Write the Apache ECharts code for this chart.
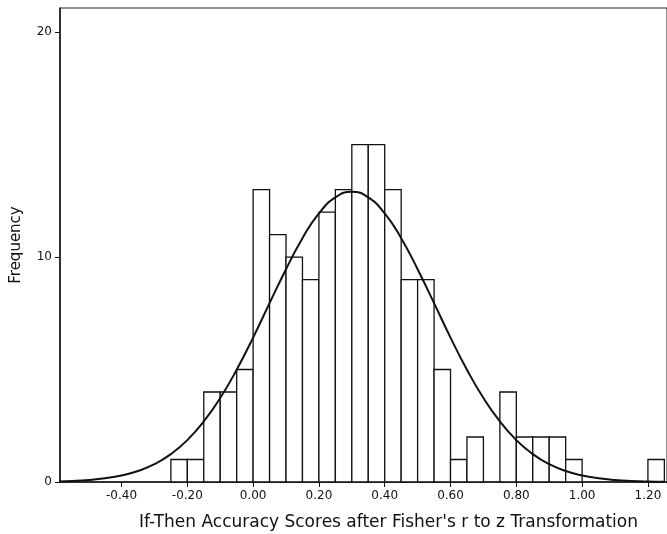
<!DOCTYPE html>
<html>
<head>
<meta charset="utf-8">
<script src="https://cdn.jsdelivr.net/npm/echarts@6/dist/echarts.min.js"></script>
<style>
html, body { margin: 0; padding: 0; background: #fff; }
#view { width: 667px; height: 534px; }
</style>
</head>
<body>
<div id="view"></div>
<script>
var myChart = echarts.init(document.getElementById('view'));

// histogram bins (left edge), width 0.05
var binStart = [-0.25, -0.20, -0.15, -0.10, -0.05, 0.00, 0.05, 0.10, 0.15, 0.20, 0.25, 0.30, 0.35,
    0.40, 0.45, 0.50, 0.55, 0.60, 0.65, 0.70, 0.75, 0.80, 0.85, 0.90, 0.95, 1.00, 1.05, 1.10, 1.15, 1.20];
var counts = [1, 1, 4, 4, 5, 13, 11, 10, 9, 12, 13, 15, 15,
    13, 9, 9, 5, 1, 2, 0, 4, 2, 2, 2, 1, 0, 0, 0, 0, 1];
var binWidth = 0.05;

// normal curve
var curveX = [-0.60, -0.55, -0.50, -0.45, -0.40, -0.35, -0.30, -0.25, -0.20, -0.15, -0.10, -0.05,
    0.00, 0.05, 0.10, 0.15, 0.20, 0.25, 0.30, 0.35, 0.40, 0.45, 0.50, 0.55, 0.60, 0.65, 0.70,
    0.75, 0.80, 0.85, 0.90, 0.95, 1.00, 1.05, 1.10, 1.15, 1.20, 1.25];
var curveY = [0.024, 0.048, 0.09, 0.165, 0.29, 0.49, 0.79, 1.24, 1.86, 2.69, 3.73, 4.99,
    6.42, 7.95, 9.46, 10.84, 11.94, 12.65, 12.9, 12.65, 11.94, 10.84, 9.46, 7.95, 6.42, 4.99, 3.73,
    2.69, 1.86, 1.24, 0.79, 0.49, 0.29, 0.165, 0.09, 0.048, 0.024, 0.012];

var xTicks = [-0.40, -0.20, 0.00, 0.20, 0.40, 0.60, 0.80, 1.00, 1.20];
var yTicks = [0, 10, 20];

var bars = [];
for (var i = 0; i < binStart.length; i++) {
    bars.push([binStart[i], counts[i]]);
}
var curve = [];
for (var j = 0; j < curveX.length; j++) {
    curve.push([curveX[j], curveY[j]]);
}

var option = {
    animation: false,
    backgroundColor: '#fff',
    textStyle: { fontFamily: 'DejaVu Sans' },
    grid: {
        left: 60,
        right: 0,
        top: 8,
        bottom: 52,
        outerBoundsMode: 'none',
        containLabel: false,
        show: true,
        borderColor: '#222',
        borderWidth: 1
    },
    xAxis: {
        type: 'value',
        min: -0.587,
        max: 1.258,
        name: "If-Then Accuracy Scores after Fisher's r to z Transformation",
        nameLocation: 'middle',
        nameGap: 32,
        nameTextStyle: { color: '#111', fontSize: 17, padding: [0, 0, 0, 50] },
        axisLine: { onZero: false, lineStyle: { color: '#111', width: 1.5 } },
        axisTick: { show: true, length: 5, customValues: xTicks, lineStyle: { color: '#111' } },
        axisLabel: {
            customValues: xTicks,
            color: '#111',
            fontSize: 12,
            margin: 8,
            formatter: function (v) { return v.toFixed(2); }
        },
        splitLine: { show: false }
    },
    yAxis: {
        type: 'value',
        min: 0,
        max: 21.07,
        name: 'Frequency',
        nameLocation: 'middle',
        nameGap: 36,
        nameTextStyle: { color: '#111', fontSize: 15 },
        axisLine: { show: true, onZero: false, lineStyle: { color: '#111', width: 1.5 } },
        axisTick: { show: true, length: 5, customValues: yTicks, lineStyle: { color: '#111' } },
        axisLabel: { customValues: yTicks, color: '#111', fontSize: 12, margin: 8 },
        splitLine: { show: false }
    },
    series: [
        {
            type: 'custom',
            data: bars,
            renderItem: function (params, api) {
                var x0 = api.value(0);
                var c = api.value(1);
                if (c <= 0) return null;
                var p1 = api.coord([x0, c]);
                var p2 = api.coord([x0 + binWidth, 0]);
                return {
                    type: 'rect',
                    shape: { x: p1[0], y: p1[1], width: p2[0] - p1[0], height: p2[1] - p1[1] },
                    style: { fill: '#fff', stroke: '#111', lineWidth: 1.3 }
                };
            },
            z: 2
        },
        {
            type: 'line',
            data: curve,
            smooth: true,
            showSymbol: false,
            lineStyle: { color: '#111', width: 2 },
            z: 3
        }
    ]
};

myChart.setOption(option);
</script>
</body>
</html>
